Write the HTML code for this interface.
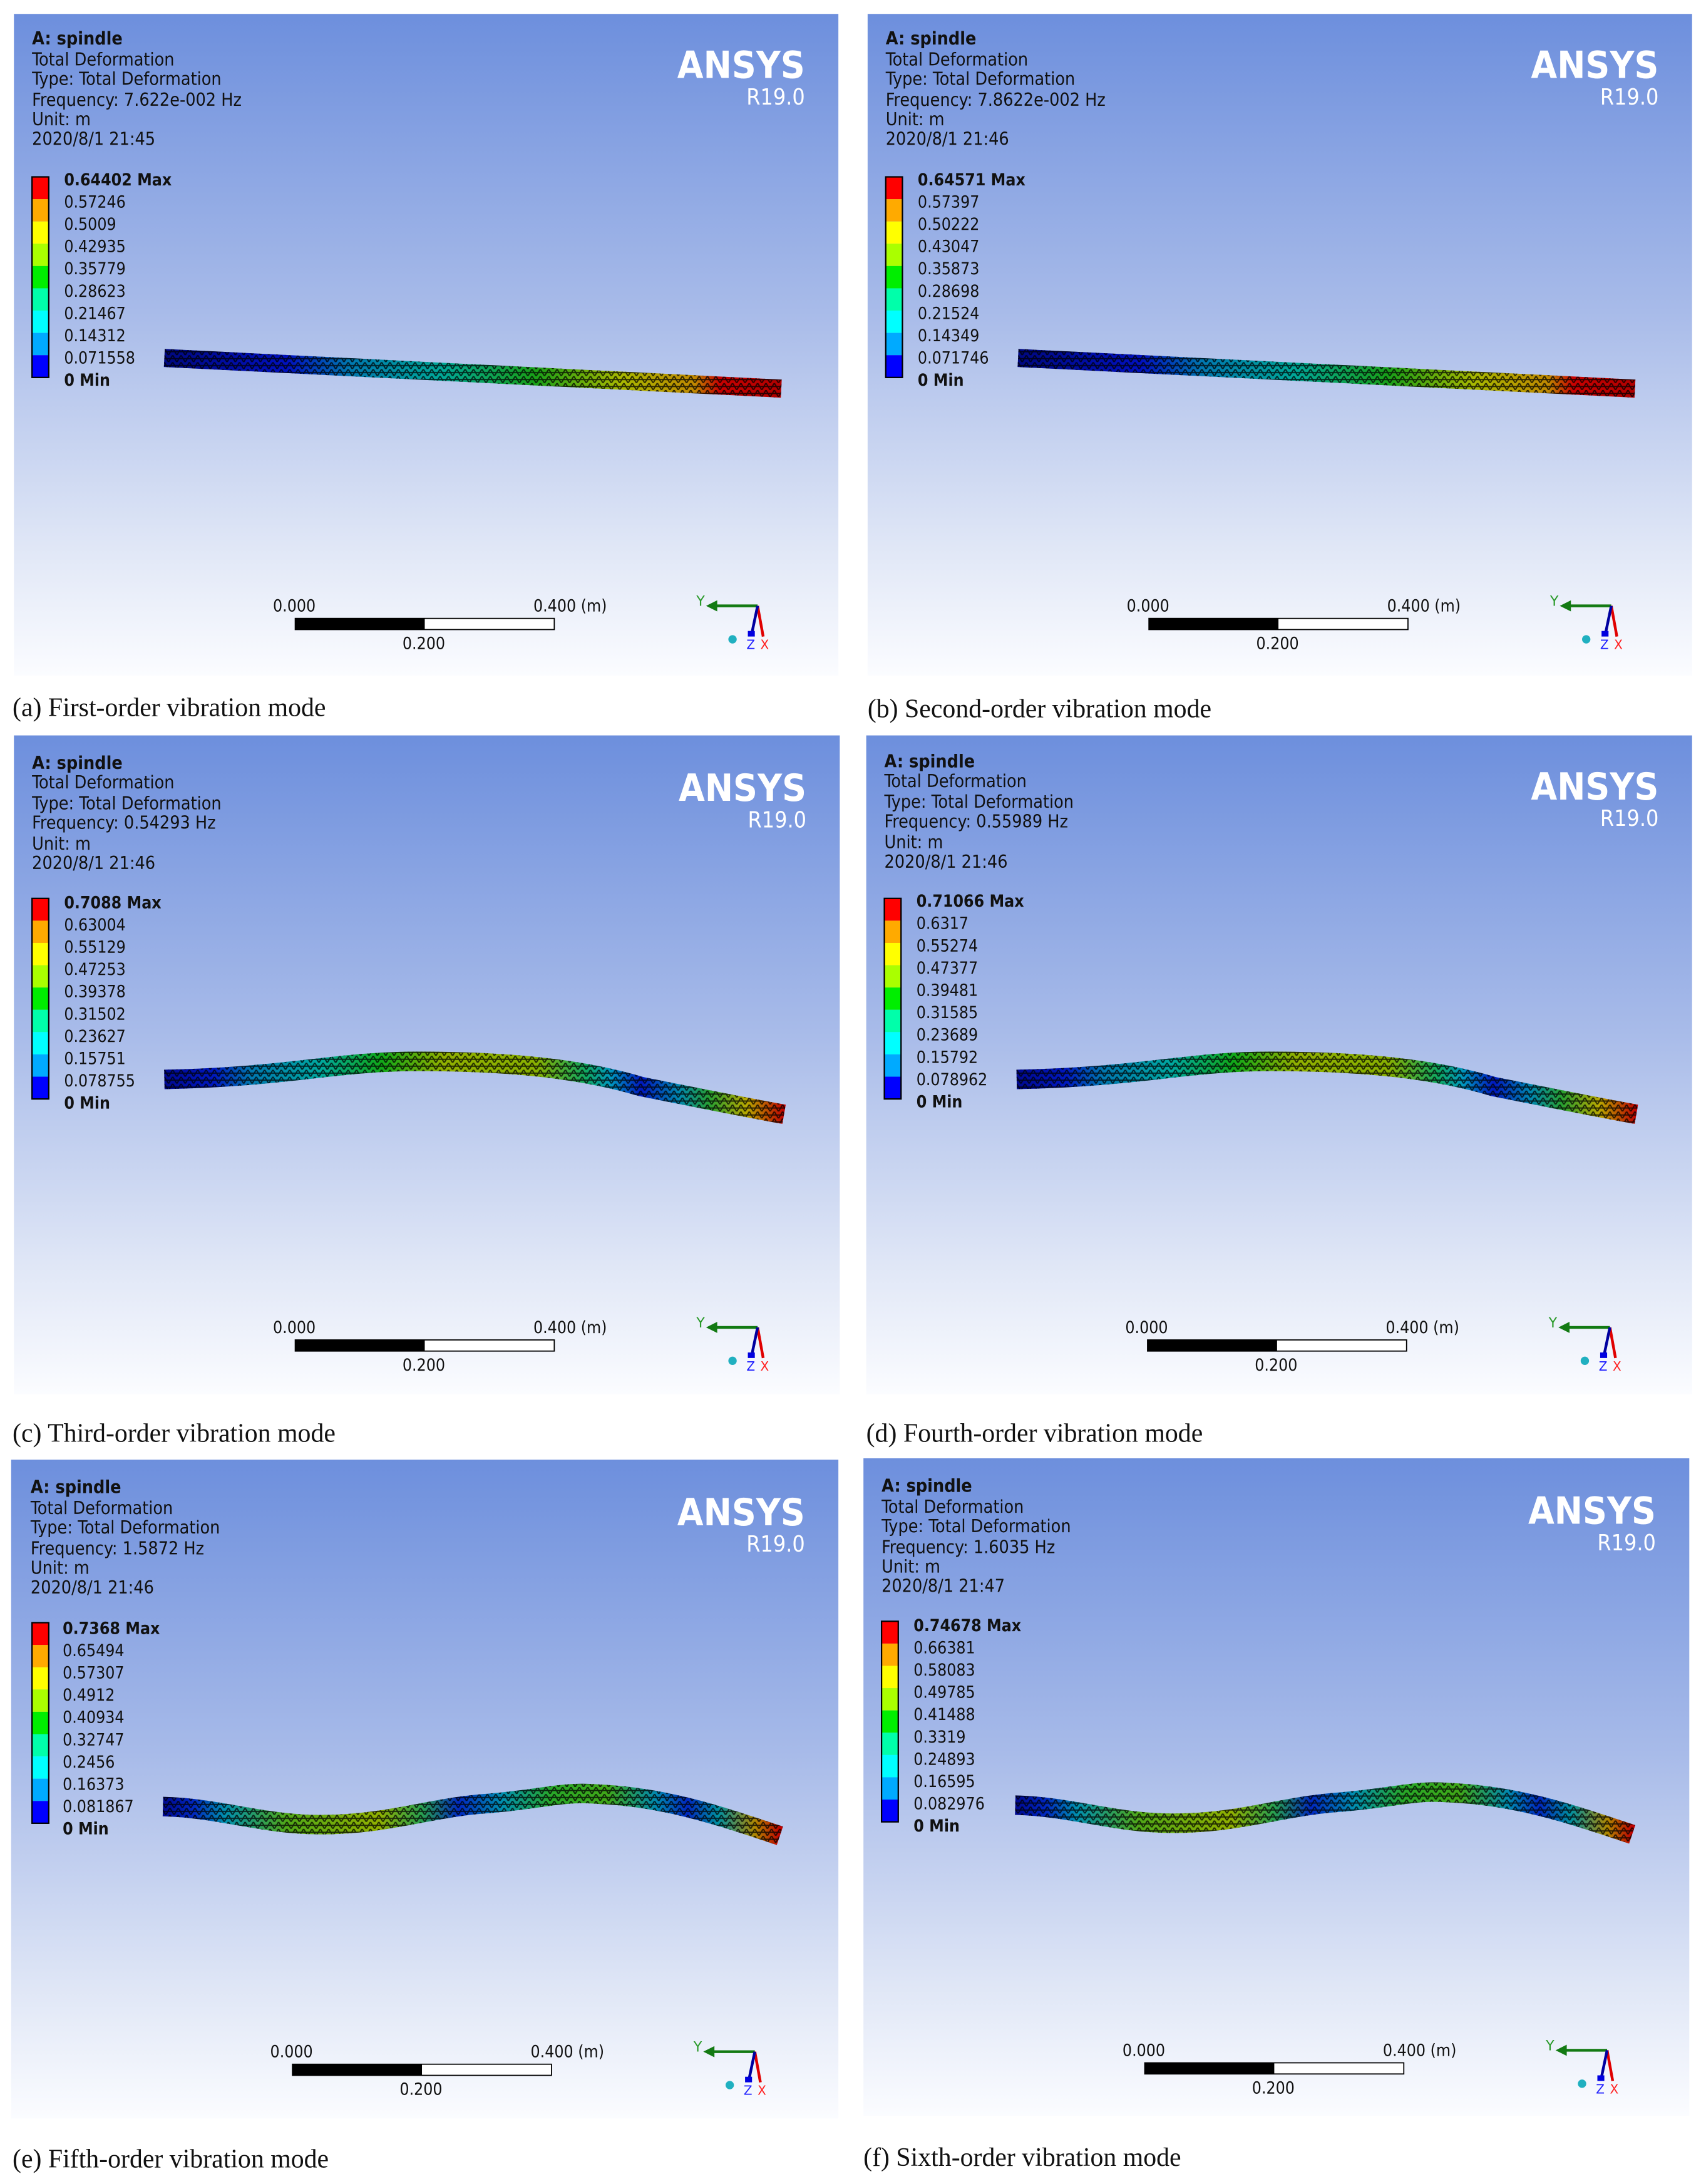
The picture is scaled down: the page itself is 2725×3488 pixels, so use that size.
<!DOCTYPE html>
<html><head><meta charset="utf-8"><style>
html,body{margin:0;padding:0;background:#fff;}
svg{display:block;}
.t{font-family:"DejaVu Sans Condensed","DejaVu Sans","Liberation Sans",sans-serif;font-size:11.9px;fill:#111;}
.h{font-size:12.8px;}
.b{font-weight:bold;}
.an{font-family:"DejaVu Sans Condensed","DejaVu Sans",sans-serif;font-weight:bold;font-size:27px;fill:#fff;}
.r{font-family:"DejaVu Sans Condensed","DejaVu Sans",sans-serif;font-size:16px;fill:#fff;}
.cap{font-family:"Liberation Serif",serif;font-size:18.8px;fill:#111;}
</style></head><body>
<svg width="2725" height="3488" viewBox="0 0 1225 1568" xmlns="http://www.w3.org/2000/svg">
<defs>
<linearGradient id="bg" x1="0" y1="0" x2="0" y2="1">
<stop offset="0" stop-color="#6d8fdd"/><stop offset="0.45" stop-color="#a8bbe9"/><stop offset="0.8" stop-color="#dfe6f6"/><stop offset="1" stop-color="#fbfcff"/>
</linearGradient>
<pattern id="mesh" width="6" height="5" patternUnits="userSpaceOnUse">
<path d="M0 0L3 5L6 0M0 2.5H6" stroke="#000" stroke-width="0.9" fill="none" opacity="0.75"/>
</pattern>
<linearGradient id="ga" gradientUnits="userSpaceOnUse" x1="108" y1="0" x2="551" y2="0">
<stop offset="0" stop-color="#000880"/><stop offset="0.2" stop-color="#0010c0"/><stop offset="0.3" stop-color="#0078b0"/><stop offset="0.45" stop-color="#00a898"/><stop offset="0.6" stop-color="#18a018"/><stop offset="0.74" stop-color="#a8b800"/><stop offset="0.86" stop-color="#c08800"/><stop offset="0.9" stop-color="#c80000"/><stop offset="1" stop-color="#b00000"/>
</linearGradient>
<linearGradient id="gc" gradientUnits="userSpaceOnUse" x1="108" y1="0" x2="553" y2="0">
<stop offset="0" stop-color="#000890"/><stop offset="0.08" stop-color="#0018c0"/><stop offset="0.14" stop-color="#0078b0"/><stop offset="0.25" stop-color="#00a8a0"/><stop offset="0.35" stop-color="#10a818"/><stop offset="0.45" stop-color="#90b000"/><stop offset="0.6" stop-color="#88b000"/><stop offset="0.68" stop-color="#10a860"/><stop offset="0.72" stop-color="#0098c0"/><stop offset="0.77" stop-color="#0018c0"/><stop offset="0.83" stop-color="#0088b0"/><stop offset="0.88" stop-color="#28a030"/><stop offset="0.94" stop-color="#b8a800"/><stop offset="1" stop-color="#c00000"/>
</linearGradient>
<linearGradient id="ge" gradientUnits="userSpaceOnUse" x1="109" y1="0" x2="552" y2="0">
<stop offset="0" stop-color="#000890"/><stop offset="0.05" stop-color="#0028c0"/><stop offset="0.1" stop-color="#0090b0"/><stop offset="0.2" stop-color="#50a818"/><stop offset="0.35" stop-color="#90b000"/><stop offset="0.42" stop-color="#28a050"/><stop offset="0.48" stop-color="#0028c0"/><stop offset="0.55" stop-color="#0090b0"/><stop offset="0.63" stop-color="#28a828"/><stop offset="0.72" stop-color="#40a818"/><stop offset="0.8" stop-color="#0088b0"/><stop offset="0.85" stop-color="#0028c0"/><stop offset="0.9" stop-color="#0090a0"/><stop offset="0.96" stop-color="#b08800"/><stop offset="1" stop-color="#c00000"/>
</linearGradient>
<path id="pa" d="M108 247 L551 269"/>
<path id="pc" d="M108 247 C200 245 230 234 290 234 C360 234 410 240 450 252 C500 262 530 268 553 272"/>
<path id="pe" d="M109 249 C150 250 180 262 222 262 C270 262 300 250 340 247 C380 244 395 238 420 240 C470 242 510 256 552 270"/>
<g id="leg">
<rect x="13" y="117" width="12" height="16" fill="#ff0000"/>
<rect x="13" y="133" width="12" height="16" fill="#ffaa00"/>
<rect x="13" y="149" width="12" height="16" fill="#ffff00"/>
<rect x="13" y="165" width="12" height="16" fill="#aaff00"/>
<rect x="13" y="181" width="12" height="16" fill="#00ee00"/>
<rect x="13" y="197" width="12" height="16" fill="#00ffaa"/>
<rect x="13" y="213" width="12" height="16" fill="#00ffff"/>
<rect x="13" y="229" width="12" height="16" fill="#00aaff"/>
<rect x="13" y="245" width="12" height="16" fill="#0000ff"/>
<rect x="13" y="117" width="12" height="144" fill="none" stroke="#000" stroke-width="1"/>
</g>
<g id="bot">
<rect x="202" y="434" width="186" height="8" fill="#fff" stroke="#000" stroke-width="0.8"/>
<rect x="202" y="434" width="93" height="8" fill="#000"/>
<text class="t" x="186" y="429">0.000</text>
<text class="t" x="373" y="429">0.400 (m)</text>
<text class="t" x="279" y="456">0.200</text>
<line x1="534" y1="425" x2="502" y2="425" stroke="#137a13" stroke-width="2"/>
<path d="M497 425 L505 421 L505 429Z" fill="#137a13"/>
<text x="490" y="425" font-family="DejaVu Sans,sans-serif" font-size="10" fill="#2a9a2a">Y</text>
<line x1="534" y1="425" x2="538" y2="447" stroke="#e00000" stroke-width="2"/>
<line x1="534" y1="425" x2="530" y2="444" stroke="#0000a0" stroke-width="2"/>
<rect x="527" y="443" width="5" height="4" fill="#0000e0"/>
<circle cx="516" cy="449" r="3" fill="#20b0c0"/>
<text x="526" y="456" font-family="DejaVu Sans,sans-serif" font-size="9" fill="#2020ff">Z</text>
<text x="536" y="456" font-family="DejaVu Sans,sans-serif" font-size="9" fill="#ff2020">X</text>
</g>
</defs>

<g transform="translate(10,10)">
<rect width="592" height="475" fill="url(#bg)"/>
<text class="t h b" x="13" y="22">A: spindle</text>
<text class="t h" x="13" y="37">Total Deformation</text>
<text class="t h" x="13" y="51">Type: Total Deformation</text>
<text class="t h" x="13" y="66">Frequency: 7.622e-002 Hz</text>
<text class="t h" x="13" y="80">Unit: m</text>
<text class="t h" x="13" y="94">2020/8/1 21:45</text>
<text class="an" x="568" y="46" text-anchor="end">ANSYS</text>
<text class="r" x="568" y="65" text-anchor="end">R19.0</text>
<use href="#leg"/>
<text class="t b" x="36" y="123">0.64402 Max</text>
<text class="t" x="36" y="139">0.57246</text><text class="t" x="36" y="155">0.5009</text><text class="t" x="36" y="171">0.42935</text><text class="t" x="36" y="187">0.35779</text><text class="t" x="36" y="203">0.28623</text><text class="t" x="36" y="219">0.21467</text><text class="t" x="36" y="235">0.14312</text><text class="t" x="36" y="251">0.071558</text>
<text class="t b" x="36" y="267">0 Min</text>
<use href="#pa" stroke="url(#ga)" stroke-width="13" fill="none"/>
<use href="#pa" stroke="url(#mesh)" stroke-width="13" fill="none"/>
<use href="#bot"/>
</g>
<g transform="translate(623,10)">
<rect width="592" height="475" fill="url(#bg)"/>
<text class="t h b" x="13" y="22">A: spindle</text>
<text class="t h" x="13" y="37">Total Deformation</text>
<text class="t h" x="13" y="51">Type: Total Deformation</text>
<text class="t h" x="13" y="66">Frequency: 7.8622e-002 Hz</text>
<text class="t h" x="13" y="80">Unit: m</text>
<text class="t h" x="13" y="94">2020/8/1 21:46</text>
<text class="an" x="568" y="46" text-anchor="end">ANSYS</text>
<text class="r" x="568" y="65" text-anchor="end">R19.0</text>
<use href="#leg"/>
<text class="t b" x="36" y="123">0.64571 Max</text>
<text class="t" x="36" y="139">0.57397</text><text class="t" x="36" y="155">0.50222</text><text class="t" x="36" y="171">0.43047</text><text class="t" x="36" y="187">0.35873</text><text class="t" x="36" y="203">0.28698</text><text class="t" x="36" y="219">0.21524</text><text class="t" x="36" y="235">0.14349</text><text class="t" x="36" y="251">0.071746</text>
<text class="t b" x="36" y="267">0 Min</text>
<use href="#pa" stroke="url(#ga)" stroke-width="13" fill="none"/>
<use href="#pa" stroke="url(#mesh)" stroke-width="13" fill="none"/>
<use href="#bot"/>
</g>
<g transform="translate(10,528)">
<rect width="593" height="473" fill="url(#bg)"/>
<text class="t h b" x="13" y="24">A: spindle</text>
<text class="t h" x="13" y="38">Total Deformation</text>
<text class="t h" x="13" y="53">Type: Total Deformation</text>
<text class="t h" x="13" y="67">Frequency: 0.54293 Hz</text>
<text class="t h" x="13" y="82">Unit: m</text>
<text class="t h" x="13" y="96">2020/8/1 21:46</text>
<text class="an" x="569" y="47" text-anchor="end">ANSYS</text>
<text class="r" x="569" y="66" text-anchor="end">R19.0</text>
<use href="#leg"/>
<text class="t b" x="36" y="124">0.7088 Max</text>
<text class="t" x="36" y="140">0.63004</text><text class="t" x="36" y="156">0.55129</text><text class="t" x="36" y="172">0.47253</text><text class="t" x="36" y="188">0.39378</text><text class="t" x="36" y="204">0.31502</text><text class="t" x="36" y="220">0.23627</text><text class="t" x="36" y="236">0.15751</text><text class="t" x="36" y="252">0.078755</text>
<text class="t b" x="36" y="268">0 Min</text>
<use href="#pc" stroke="url(#gc)" stroke-width="14" fill="none"/>
<use href="#pc" stroke="url(#mesh)" stroke-width="14" fill="none"/>
<use href="#bot"/>
</g>
<g transform="translate(622,528)">
<rect width="593" height="473" fill="url(#bg)"/>
<text class="t h b" x="13" y="23">A: spindle</text>
<text class="t h" x="13" y="37">Total Deformation</text>
<text class="t h" x="13" y="52">Type: Total Deformation</text>
<text class="t h" x="13" y="66">Frequency: 0.55989 Hz</text>
<text class="t h" x="13" y="81">Unit: m</text>
<text class="t h" x="13" y="95">2020/8/1 21:46</text>
<text class="an" x="569" y="46" text-anchor="end">ANSYS</text>
<text class="r" x="569" y="65" text-anchor="end">R19.0</text>
<use href="#leg"/>
<text class="t b" x="36" y="123">0.71066 Max</text>
<text class="t" x="36" y="139">0.6317</text><text class="t" x="36" y="155">0.55274</text><text class="t" x="36" y="171">0.47377</text><text class="t" x="36" y="187">0.39481</text><text class="t" x="36" y="203">0.31585</text><text class="t" x="36" y="219">0.23689</text><text class="t" x="36" y="235">0.15792</text><text class="t" x="36" y="251">0.078962</text>
<text class="t b" x="36" y="267">0 Min</text>
<use href="#pc" stroke="url(#gc)" stroke-width="14" fill="none"/>
<use href="#pc" stroke="url(#mesh)" stroke-width="14" fill="none"/>
<use href="#bot"/>
</g>
<g transform="translate(8,1048)">
<rect width="594" height="473" fill="url(#bg)"/>
<text class="t h b" x="14" y="24">A: spindle</text>
<text class="t h" x="14" y="39">Total Deformation</text>
<text class="t h" x="14" y="53">Type: Total Deformation</text>
<text class="t h" x="14" y="68">Frequency: 1.5872 Hz</text>
<text class="t h" x="14" y="82">Unit: m</text>
<text class="t h" x="14" y="96">2020/8/1 21:46</text>
<text class="an" x="570" y="47" text-anchor="end">ANSYS</text>
<text class="r" x="570" y="66" text-anchor="end">R19.0</text>
<use href="#leg" transform="translate(2,0)"/>
<text class="t b" x="37" y="125">0.7368 Max</text>
<text class="t" x="37" y="141">0.65494</text><text class="t" x="37" y="157">0.57307</text><text class="t" x="37" y="173">0.4912</text><text class="t" x="37" y="189">0.40934</text><text class="t" x="37" y="205">0.32747</text><text class="t" x="37" y="221">0.2456</text><text class="t" x="37" y="237">0.16373</text><text class="t" x="37" y="253">0.081867</text>
<text class="t b" x="37" y="269">0 Min</text>
<use href="#pe" stroke="url(#ge)" stroke-width="14" fill="none"/>
<use href="#pe" stroke="url(#mesh)" stroke-width="14" fill="none"/>
<use href="#bot"/>
</g>
<g transform="translate(620,1047)">
<rect width="593" height="472" fill="url(#bg)"/>
<text class="t h b" x="13" y="24">A: spindle</text>
<text class="t h" x="13" y="39">Total Deformation</text>
<text class="t h" x="13" y="53">Type: Total Deformation</text>
<text class="t h" x="13" y="68">Frequency: 1.6035 Hz</text>
<text class="t h" x="13" y="82">Unit: m</text>
<text class="t h" x="13" y="96">2020/8/1 21:47</text>
<text class="an" x="569" y="47" text-anchor="end">ANSYS</text>
<text class="r" x="569" y="66" text-anchor="end">R19.0</text>
<use href="#leg"/>
<text class="t b" x="36" y="124">0.74678 Max</text>
<text class="t" x="36" y="140">0.66381</text><text class="t" x="36" y="156">0.58083</text><text class="t" x="36" y="172">0.49785</text><text class="t" x="36" y="188">0.41488</text><text class="t" x="36" y="204">0.3319</text><text class="t" x="36" y="220">0.24893</text><text class="t" x="36" y="236">0.16595</text><text class="t" x="36" y="252">0.082976</text>
<text class="t b" x="36" y="268">0 Min</text>
<use href="#pe" stroke="url(#ge)" stroke-width="14" fill="none"/>
<use href="#pe" stroke="url(#mesh)" stroke-width="14" fill="none"/>
<use href="#bot"/>
</g>

<text class="cap" x="9" y="514">(a) First-order vibration mode</text>
<text class="cap" x="623" y="515">(b) Second-order vibration mode</text>
<text class="cap" x="9" y="1035">(c) Third-order vibration mode</text>
<text class="cap" x="622" y="1035">(d) Fourth-order vibration mode</text>
<text class="cap" x="9" y="1556">(e) Fifth-order vibration mode</text>
<text class="cap" x="620" y="1555">(f) Sixth-order vibration mode</text>
</svg>
</body></html>
